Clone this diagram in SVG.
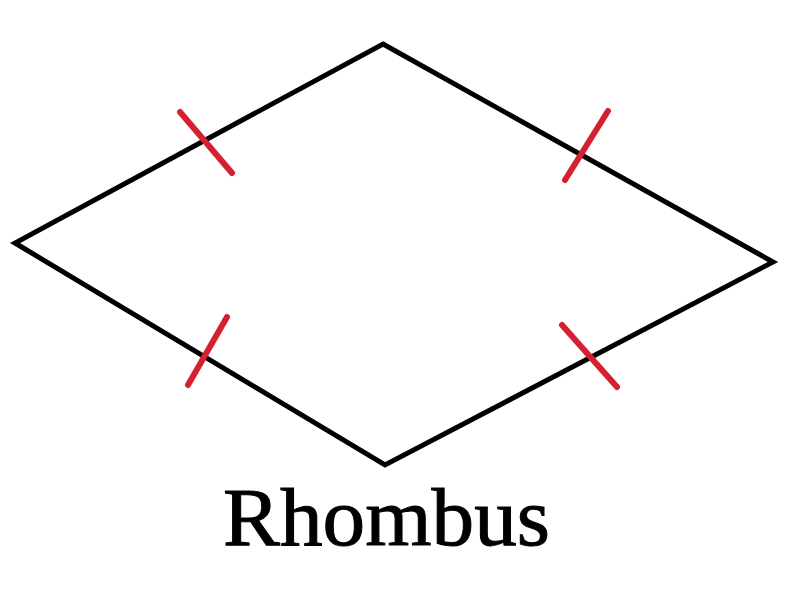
<svg xmlns="http://www.w3.org/2000/svg" width="800" height="600" viewBox="0 0 800 600">
<style>
.edge{fill:none;stroke:#000;stroke-width:5;stroke-linejoin:miter}
.tick{stroke:#d42030;stroke-width:6;stroke-linecap:round}
.label{font-family:"Liberation Serif",serif;font-size:82px;fill:#000;stroke:#000;stroke-width:1}
</style>
<rect width="800" height="600" fill="#fff"/>
<g id="rhombus">
<polygon class="edge" points="383,44 773,262 385,465 15,243"/>
</g>
<g id="ticks">
<line class="tick" x1="180" y1="112" x2="232" y2="173"/>
<line class="tick" x1="608" y1="111" x2="565" y2="180"/>
<line class="tick" x1="227" y1="317" x2="188" y2="385"/>
<line class="tick" x1="562" y1="325" x2="617" y2="387"/>
</g>
<g id="caption">
<text class="label" x="223" y="545" textLength="327" lengthAdjust="spacingAndGlyphs">Rhombus</text>
</g>
</svg>
